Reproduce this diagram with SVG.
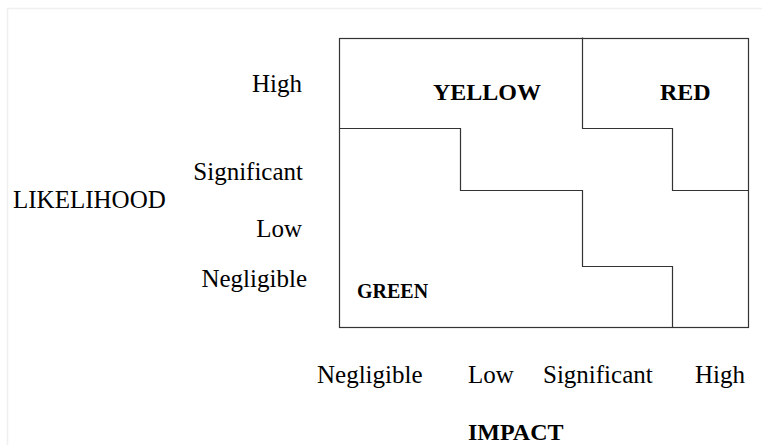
<svg xmlns="http://www.w3.org/2000/svg" width="762" height="445" viewBox="0 0 762 445">
<style>
  .t{font-family:"Liberation Serif","Times New Roman","DejaVu Serif",serif;font-size:25px;fill:#000}
  .b{font-weight:bold;font-size:24px}
  .g{font-size:20px}
  .ln{fill:none;stroke:#333;stroke-width:1.2}
</style>
<rect width="762" height="445" fill="#fff"/>
<path d="M7.5,445 V8.5 H762" fill="none" stroke="#f0f0f0" stroke-width="1.5"/>
<g id="matrix">
  <rect class="ln" x="339.5" y="38.5" width="409" height="289"/>
</g>
<g id="connectors">
  <path class="ln" d="M339.5,128.5 H460.5 V190.5 H582.5 V266.5 H672.5 V327.5"/>
  <path class="ln" d="M582.5,37.5 V128.5 H672.5 V190.5 H748.5"/>
</g>
<g id="yellow"><text class="t b" x="433" y="100">YELLOW</text></g>
<g id="red"><text class="t b" x="660" y="100">RED</text></g>
<g id="green"><text class="t b g" x="357" y="298">GREEN</text></g>
<g id="likelihood">
  <text class="t" x="13" y="208">LIKELIHOOD</text>
  <text class="t" x="302" y="92" text-anchor="end">High</text>
  <text class="t" x="303" y="180" text-anchor="end">Significant</text>
  <text class="t" x="302" y="237" text-anchor="end">Low</text>
  <text class="t" x="307" y="287" text-anchor="end">Negligible</text>
</g>
<g id="impact">
  <text class="t" x="317" y="383">Negligible</text>
  <text class="t" x="468" y="383">Low</text>
  <text class="t" x="543" y="383">Significant</text>
  <text class="t" x="695" y="383">High</text>
  <text class="t b" x="468" y="440">IMPACT</text>
</g>
</svg>
